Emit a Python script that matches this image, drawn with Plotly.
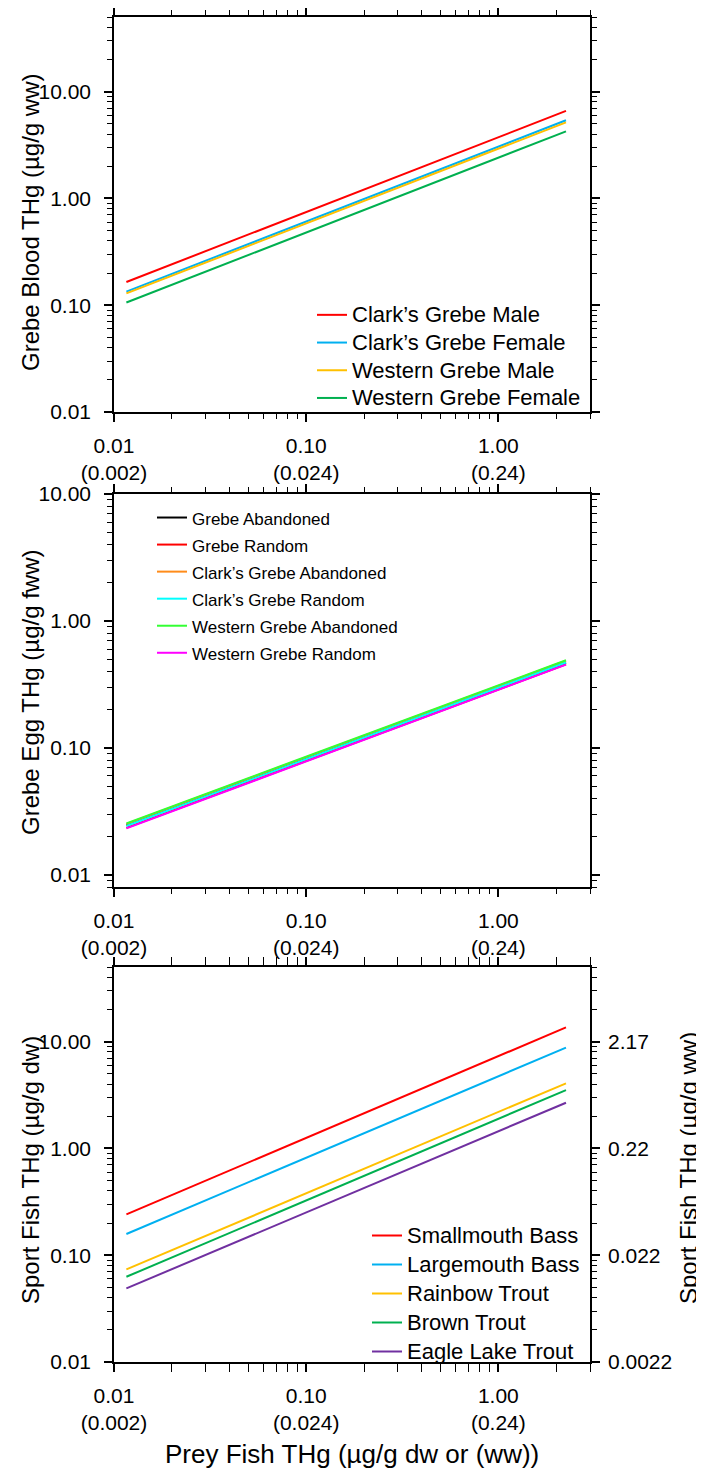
import math
import plotly.graph_objects as go

W, H = 704, 1470
OFF = 8  # page body margin: figure pixels = screen pixels - OFF

# ---------------- data ----------------
prey_x = [0.0116, 2.25]

blood_names = ["Clark’s Grebe Male", "Clark’s Grebe Female", "Western Grebe Male", "Western Grebe Female"]
blood_colors = ["#ff0000", "#00b0f0", "#ffc000", "#00b050"]
blood_start = [0.165, 0.134, 0.129, 0.106]
blood_end = [6.6, 5.4, 5.15, 4.25]

egg_names = ["Grebe Abandoned", "Grebe Random", "Clark’s Grebe Abandoned",
             "Clark’s Grebe Random", "Western Grebe Abandoned", "Western Grebe Random"]
egg_colors = ["#000000", "#ff0000", "#ff8c1a", "#00ffff", "#33ff33", "#ff00ff"]
egg_start = [0.0245, 0.0234, 0.0251, 0.0242, 0.0254, 0.0232]
egg_end = [0.47, 0.455, 0.485, 0.47, 0.49, 0.452]

sport_names = ["Smallmouth Bass", "Largemouth Bass", "Rainbow Trout", "Brown Trout", "Eagle Lake Trout"]
sport_colors = ["#ff0000", "#00b0f0", "#ffc000", "#00b050", "#7030a0"]
sport_start = [0.241, 0.158, 0.0736, 0.0628, 0.0489]
sport_end = [13.6, 8.8, 4.07, 3.52, 2.68]

x_tickvals = [0.01, 0.1, 1]
x_ticktext = ["0.01<br>(0.002)", "0.10<br>(0.024)", "1.00<br>(0.24)"]
y_tickvals = [0.01, 0.1, 1, 10]
y_ticktext = ["0.01", "0.10", "1.00", "10.00"]
y_ww_ticktext = ["0.0022", "0.022", "0.22", "2.17"]

FONT = "Liberation Sans, Arial, sans-serif"

# ---------------- layout geometry (screen pixels) ----------------
left_px, right_px = 114, 590
panels = [(17, 412), (494, 887), (967, 1362)]


def px(x):
    return (x - OFF) / W


def py(y):
    return 1 - (y - OFF) / H


def minor_vals(lo_exp, hi_exp):
    return [m * 10 ** e for e in range(lo_exp, hi_exp + 1) for m in range(2, 10)]


def span(txt, size):
    return '<span style="font-size:%dpx">%s</span>' % (size, txt)


fig = go.Figure()

for n, c, s, e in zip(blood_names, blood_colors, blood_start, blood_end):
    fig.add_trace(go.Scatter(x=prey_x, y=[s, e], mode="lines", name=span(n, 22),
                             line=dict(color=c, width=2), xaxis="x", yaxis="y", legend="legend"))
for n, c, s, e in zip(egg_names, egg_colors, egg_start, egg_end):
    fig.add_trace(go.Scatter(x=prey_x, y=[s, e], mode="lines", name=span(n, 17),
                             line=dict(color=c, width=2), xaxis="x2", yaxis="y2", legend="legend2"))
for n, c, s, e in zip(sport_names, sport_colors, sport_start, sport_end):
    fig.add_trace(go.Scatter(x=prey_x, y=[s, e], mode="lines", name=span(n, 22),
                             line=dict(color=c, width=2), xaxis="x3", yaxis="y3", legend="legend3"))
# empty trace to activate the right-hand (ww) axis of panel 3
fig.add_trace(go.Scatter(x=[], y=[], xaxis="x3", yaxis="y4", showlegend=False, hoverinfo="skip"))

common = dict(type="log", showline=True, linecolor="black", linewidth=1.5,
              ticks="outside", ticklen=8, tickwidth=1.5, tickcolor="black",
              mirror="allticks", showgrid=False, zeroline=False, automargin=False,
              tickfont=dict(family=FONT, size=21, color="black"))

xr = [-2, math.log10(3)]
yr13 = [-2, math.log10(50)]
yr2 = [math.log10(0.008), 1]

layout = dict(width=W, height=H, margin=dict(l=0, r=0, t=0, b=0, pad=0, autoexpand=False),
              paper_bgcolor="white", plot_bgcolor="white",
              font=dict(family=FONT, color="black"))

for i, (t, b) in enumerate(panels):
    sfx = "" if i == 0 else str(i + 1)
    layout["xaxis" + sfx] = dict(common, domain=[px(left_px), px(right_px)], anchor="y" + sfx,
                                 range=xr, tickvals=x_tickvals, ticktext=x_ticktext,
                                 ticklabelstandoff=6,
                                 minor=dict(tickvals=minor_vals(-2, 0), ticks="outside",
                                            ticklen=5, tickwidth=1.2, tickcolor="black"))
    layout["yaxis" + sfx] = dict(common, domain=[py(b), py(t)], anchor="x" + sfx,
                                 range=yr2 if i == 1 else yr13,
                                 tickvals=y_tickvals, ticktext=y_ticktext,
                                 ticklabelstandoff=9,
                                 minor=dict(tickvals=minor_vals(-3, 1), ticks="outside",
                                            ticklen=5, tickwidth=1.2, tickcolor="black"))

layout["yaxis4"] = dict(type="log", overlaying="y3", side="right", anchor="x3",
                        range=yr13, tickvals=y_tickvals, ticktext=y_ww_ticktext,
                        showline=False, ticks="", showgrid=False, zeroline=False,
                        automargin=False, ticklabelstandoff=17,
                        tickfont=dict(family=FONT, size=21, color="black"))

leg_common = dict(bgcolor="rgba(0,0,0,0)", borderwidth=0, xanchor="left", yanchor="top",
                  tracegroupgap=0)
layout["legend"] = dict(leg_common, x=px(312), y=py(296),
                        font=dict(family=FONT, size=19, color="black"))
layout["legend2"] = dict(leg_common, x=px(152), y=py(499),
                         font=dict(family=FONT, size=18.5, color="black"))
layout["legend3"] = dict(leg_common, x=px(367), y=py(1216),
                         font=dict(family=FONT, size=20, color="black"))

title_font = dict(family=FONT, size=24, color="black")
ann = dict(xref="paper", yref="paper", showarrow=False, xanchor="center", yanchor="middle")
layout["annotations"] = [
    dict(ann, text="Grebe Blood THg (µg/g ww)", textangle=-90, x=px(30), y=py(222), font=title_font),
    dict(ann, text="Grebe Egg THg (µg/g fww)", textangle=-90, x=px(30), y=py(692), font=title_font),
    dict(ann, text="Sport Fish THg (µg/g dw)", textangle=-90, x=px(30), y=py(1170), font=title_font),
    dict(ann, text="Sport Fish THg (µg/g ww)", textangle=-90, x=px(688), y=py(1168), font=title_font),
    dict(ann, text="Prey Fish THg (µg/g dw or (ww))", x=px(352), y=py(1454),
         font=dict(family=FONT, size=26, color="black")),
]

fig.update_layout(layout)
fig.write_html("out.html")
